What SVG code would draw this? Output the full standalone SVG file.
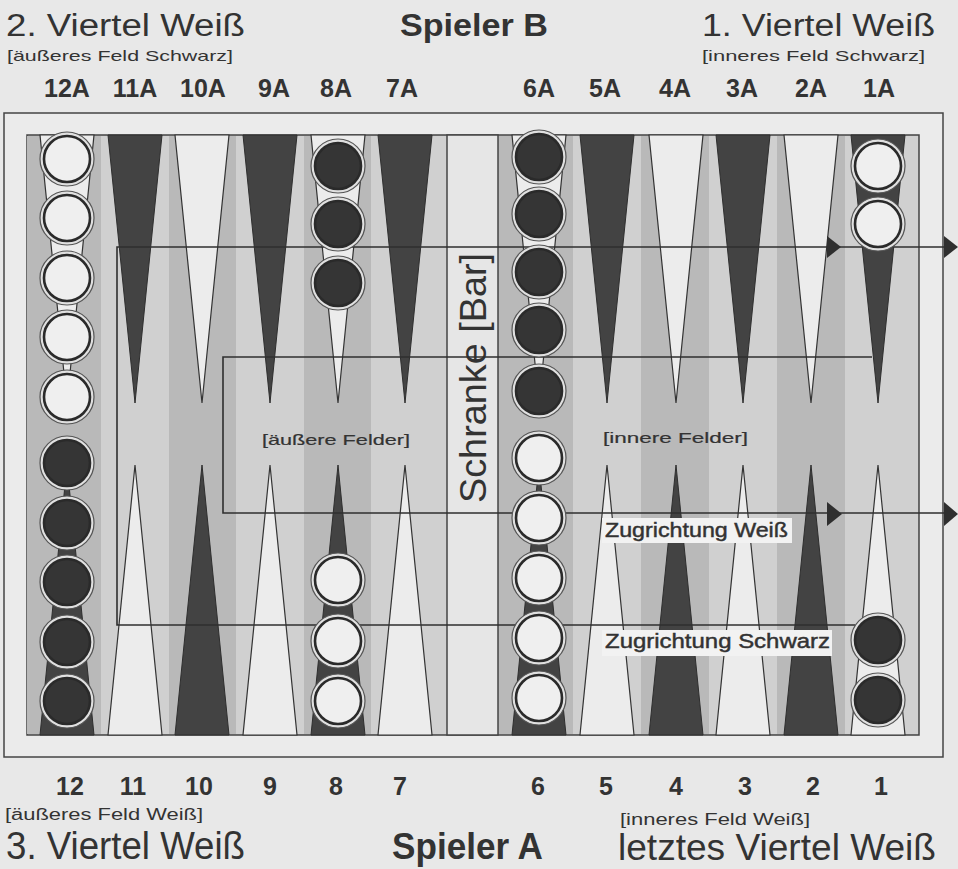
<svg xmlns="http://www.w3.org/2000/svg" xmlns:xlink="http://www.w3.org/1999/xlink" width="958" height="869" viewBox="0 0 958 869">
<style>
text{font-family:"Liberation Sans",Arial,sans-serif;fill:#333}
.h{font-size:31px}
.hb{font-size:31px;font-weight:bold}
.s{font-size:15px}
.n{font-size:25px;font-weight:bold;text-anchor:middle}
.dk{fill:#434343;stroke:#2e2e2e;stroke-width:1}
.lt{fill:#ececec;stroke:#333;stroke-width:1.2}
.ln{stroke:#2f2f2f;stroke-width:1.6;fill:none}
.ah{fill:#2f2f2f}
.lbl{font-size:20px;stroke:#333;stroke-width:0.45}
.fl{font-size:15px;stroke:#333;stroke-width:0.2}
</style>
<defs>
<g id="wc"><circle r="27" fill="#e0e0e0" stroke="#555" stroke-width="1.2"/><circle r="23" fill="#efefef" stroke="#2a2a2a" stroke-width="2.6"/></g>
<g id="bc"><circle r="27" fill="#e0e0e0" stroke="#555" stroke-width="1.2"/><circle r="23" fill="#353535" stroke="#2a2a2a" stroke-width="2.6"/></g>
</defs>
<rect width="958" height="869" fill="#e8e8e8"/>

<g id="headers">
<text class="h" x="6" y="36" textLength="239" lengthAdjust="spacingAndGlyphs">2. Viertel Weiß</text>
<text class="hb" x="400" y="36" textLength="148" lengthAdjust="spacingAndGlyphs">Spieler B</text>
<text class="h" x="702" y="36" textLength="233" lengthAdjust="spacingAndGlyphs">1. Viertel Weiß</text>
<text class="s" x="7" y="61" textLength="226" lengthAdjust="spacingAndGlyphs">[äußeres Feld Schwarz]</text>
<text class="s" x="702" y="61" textLength="223" lengthAdjust="spacingAndGlyphs">[inneres Feld Schwarz]</text>
<text class="n" x="67" y="97">12A</text>
<text class="n" x="135" y="97">11A</text>
<text class="n" x="203" y="97">10A</text>
<text class="n" x="274" y="97">9A</text>
<text class="n" x="336" y="97">8A</text>
<text class="n" x="402" y="97">7A</text>
<text class="n" x="539" y="97">6A</text>
<text class="n" x="605" y="97">5A</text>
<text class="n" x="675" y="97">4A</text>
<text class="n" x="742" y="97">3A</text>
<text class="n" x="811" y="97">2A</text>
<text class="n" x="879" y="97">1A</text>
</g>

<g id="board">
<rect x="4" y="113" width="939" height="644" fill="#ebebeb" stroke="#444" stroke-width="1.5"/>
<rect x="27" y="135" width="892" height="600" fill="#c6c6c6" stroke="#444" stroke-width="1.5"/>
<g fill="#b9b9b9">
<rect x="27" y="136" width="74" height="598"/>
<rect x="169" y="136" width="67" height="598"/>
<rect x="304" y="136" width="67" height="598"/>
<rect x="498" y="136" width="75" height="598"/>
<rect x="641" y="136" width="68" height="598"/>
<rect x="777" y="136" width="68" height="598"/>
</g>
<g fill="#d0d0d0">
<rect x="101" y="136" width="68" height="598"/>
<rect x="236" y="136" width="68" height="598"/>
<rect x="371" y="136" width="76" height="598"/>
<rect x="573" y="136" width="68" height="598"/>
<rect x="709" y="136" width="68" height="598"/>
<rect x="845" y="136" width="73" height="598"/>
</g>
<rect x="447" y="135" width="51" height="600" fill="#e6e6e6" stroke="#444" stroke-width="1.5"/>
</g>

<g id="points-top">
<polygon class="lt" points="40,135 94,135 67,403"/>
<polygon class="dk" points="108,135 162,135 135,403"/>
<polygon class="lt" points="175,135 229,135 202,403"/>
<polygon class="dk" points="243,135 297,135 270,403"/>
<polygon class="lt" points="311,135 365,135 338,403"/>
<polygon class="dk" points="378,135 432,135 405,403"/>
<polygon class="lt" points="512,135 566,135 539,403"/>
<polygon class="dk" points="580,135 634,135 607,403"/>
<polygon class="lt" points="649,135 703,135 676,403"/>
<polygon class="dk" points="716,135 770,135 743,403"/>
<polygon class="lt" points="784,135 838,135 811,403"/>
<polygon class="dk" points="851,135 905,135 878,403"/>
</g>

<g id="points-bottom">
<polygon class="dk" points="40,735 94,735 67,465"/>
<polygon class="lt" points="108,735 162,735 135,465"/>
<polygon class="dk" points="175,735 229,735 202,465"/>
<polygon class="lt" points="243,735 297,735 270,465"/>
<polygon class="dk" points="311,735 365,735 338,465"/>
<polygon class="lt" points="378,735 432,735 405,465"/>
<polygon class="dk" points="512,735 566,735 539,465"/>
<polygon class="lt" points="580,735 634,735 607,465"/>
<polygon class="dk" points="649,735 703,735 676,465"/>
<polygon class="lt" points="716,735 770,735 743,465"/>
<polygon class="dk" points="784,735 838,735 811,465"/>
<polygon class="lt" points="851,735 905,735 878,465"/>
</g>

<g id="bar">
<text transform="translate(486,503) rotate(-90)" font-size="36" textLength="250" lengthAdjust="spacingAndGlyphs">Schranke [Bar]</text>
</g>

<g id="field-labels">
<text class="fl" x="262" y="445" textLength="148" lengthAdjust="spacingAndGlyphs">[äußere Felder]</text>
<text class="fl" x="603" y="443" textLength="145" lengthAdjust="spacingAndGlyphs">[innere Felder]</text>
</g>

<g id="connectors">
<polyline class="ln" points="855,625 117,625 117,247 950,247"/>
<polygon class="ah" points="827,236 841,247 827,258"/>
<polygon class="ah" points="944,236 958,247 944,258"/>
<polyline class="ln" points="872,357 223,357 223,513 950,513"/>
<polygon class="ah" points="827,502 842,514 827,526"/>
<polygon class="ah" points="944,502 958,514 944,526"/>
</g>

<g id="checkers-12">
<use xlink:href="#wc" x="67" y="159"/>
<use xlink:href="#wc" x="67" y="218"/>
<use xlink:href="#wc" x="67" y="278"/>
<use xlink:href="#wc" x="67" y="337"/>
<use xlink:href="#wc" x="67" y="397"/>
<use xlink:href="#bc" x="67" y="463"/>
<use xlink:href="#bc" x="67" y="523"/>
<use xlink:href="#bc" x="67" y="582"/>
<use xlink:href="#bc" x="67" y="642"/>
<use xlink:href="#bc" x="67" y="701"/>
</g>
<g id="checkers-8">
<use xlink:href="#bc" x="338" y="166"/>
<use xlink:href="#bc" x="338" y="224"/>
<use xlink:href="#bc" x="338" y="283"/>
<use xlink:href="#wc" x="338" y="580"/>
<use xlink:href="#wc" x="338" y="641"/>
<use xlink:href="#wc" x="338" y="701"/>
</g>
<g id="checkers-6">
<use xlink:href="#bc" x="539" y="157"/>
<use xlink:href="#bc" x="539" y="214"/>
<use xlink:href="#bc" x="539" y="272"/>
<use xlink:href="#bc" x="539" y="330"/>
<use xlink:href="#bc" x="539" y="391"/>
<use xlink:href="#wc" x="539" y="458"/>
<use xlink:href="#wc" x="539" y="518"/>
<use xlink:href="#wc" x="539" y="578"/>
<use xlink:href="#wc" x="539" y="638"/>
<use xlink:href="#wc" x="539" y="698"/>
</g>
<g id="checkers-1">
<use xlink:href="#wc" x="878" y="166"/>
<use xlink:href="#wc" x="878" y="224"/>
<use xlink:href="#bc" x="878" y="640"/>
<use xlink:href="#bc" x="878" y="700"/>
</g>

<g id="direction-labels">
<rect x="602" y="518" width="190" height="25" fill="#f2f2f2"/>
<text class="lbl" x="605" y="537" textLength="183" lengthAdjust="spacingAndGlyphs">Zugrichtung Weiß</text>
<rect x="602" y="630" width="230" height="26" fill="#f2f2f2"/>
<text class="lbl" x="605" y="648" textLength="225" lengthAdjust="spacingAndGlyphs">Zugrichtung Schwarz</text>
</g>

<g id="footers">
<text class="n" x="70" y="795">12</text>
<text class="n" x="133" y="795">11</text>
<text class="n" x="199" y="795">10</text>
<text class="n" x="270" y="795">9</text>
<text class="n" x="336" y="795">8</text>
<text class="n" x="400" y="795">7</text>
<text class="n" x="538" y="795">6</text>
<text class="n" x="606" y="795">5</text>
<text class="n" x="676" y="795">4</text>
<text class="n" x="745" y="795">3</text>
<text class="n" x="813" y="795">2</text>
<text class="n" x="881" y="795">1</text>
<text x="5" y="820" font-size="16" textLength="198" lengthAdjust="spacingAndGlyphs">[äußeres Feld Weiß]</text>
<text x="620" y="825" font-size="16" textLength="190" lengthAdjust="spacingAndGlyphs">[inneres Feld Weiß]</text>
<text x="6" y="859" font-size="38" textLength="239" lengthAdjust="spacingAndGlyphs">3. Viertel Weiß</text>
<text x="392" y="859" font-size="37" font-weight="bold" textLength="151" lengthAdjust="spacingAndGlyphs">Spieler A</text>
<text x="618" y="860" font-size="36" textLength="318" lengthAdjust="spacingAndGlyphs">letztes Viertel Weiß</text>
</g>
</svg>
